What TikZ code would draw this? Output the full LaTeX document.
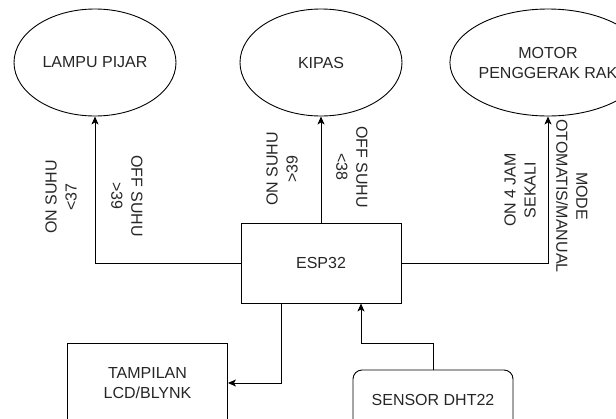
\documentclass[tikz,border=0pt]{standalone}
\usepackage{fontspec}
\setmainfont{Liberation Sans}
\usetikzlibrary{shapes.geometric,arrows.meta}
\begin{document}
\begin{tikzpicture}[x=1pt,y=-1pt,
  every node/.style={font=\fontsize{16}{20}\selectfont, text=black!85},
  ell/.style={draw, ellipse, line width=0.9pt, minimum width=162pt, minimum height=107pt, inner sep=0pt, align=center},
  blk/.style={draw, rectangle, line width=0.9pt, minimum width=160pt, minimum height=80pt, inner sep=0pt, align=center},
  rblk/.style={draw, rectangle, rounded corners=9pt, line width=0.9pt, minimum width=160pt, minimum height=60pt, inner sep=0pt, align=center},
  arr/.style={draw, line width=0.9pt, -{Stealth[length=8pt,width=7pt,inset=2pt]}},
  lblu/.style={rotate=90, align=center, inner sep=0pt},
  lbld/.style={rotate=-90, align=center, inner sep=0pt}]
\useasboundingbox (0,0) rectangle (616,418);
\node[ell] (lampu) at (95,62.5) {LAMPU PIJAR};
\node[ell] (kipas) at (321,62.5) {KIPAS};
\node[ell] (motor) at (548,62.5) {MOTOR\\PENGGERAK RAK};
\node[blk] (esp) at (321,263) {ESP32};
\node[blk] (lcd) at (147.5,383) {TAMPILAN\\LCD/BLYNK};
\node[rblk] (sensor) at (433,400) {SENSOR DHT22};
\draw[arr] (esp.west) -| (lampu.south);
\draw[arr] (esp.north) -- (kipas.south);
\draw[arr] (esp.east) -| (motor.south);
\draw[arr] ([xshift=-40pt]esp.south) |- (lcd.east);
\coordinate (bend) at (433,343);
\draw[arr] (sensor.north) -- (bend) -| ([xshift=40pt]esp.south);
\node[lblu] (l1) at (61,197) {ON SUHU\\<37};
\node[lbld] (l2) at (127,196) {OFF SUHU\\>39};
\node[lblu] (l3) at (282,169) {ON SUHU\\>39};
\node[lbld] (l4) at (352,167) {OFF SUHU\\<38};
\node[lblu] (l5) at (520,190) {ON 4 JAM\\SEKALI};
\node[lbld] (l6) at (572,196) {MODE\\OTOMATIS/MANUAL};
\end{tikzpicture}
\end{document}
